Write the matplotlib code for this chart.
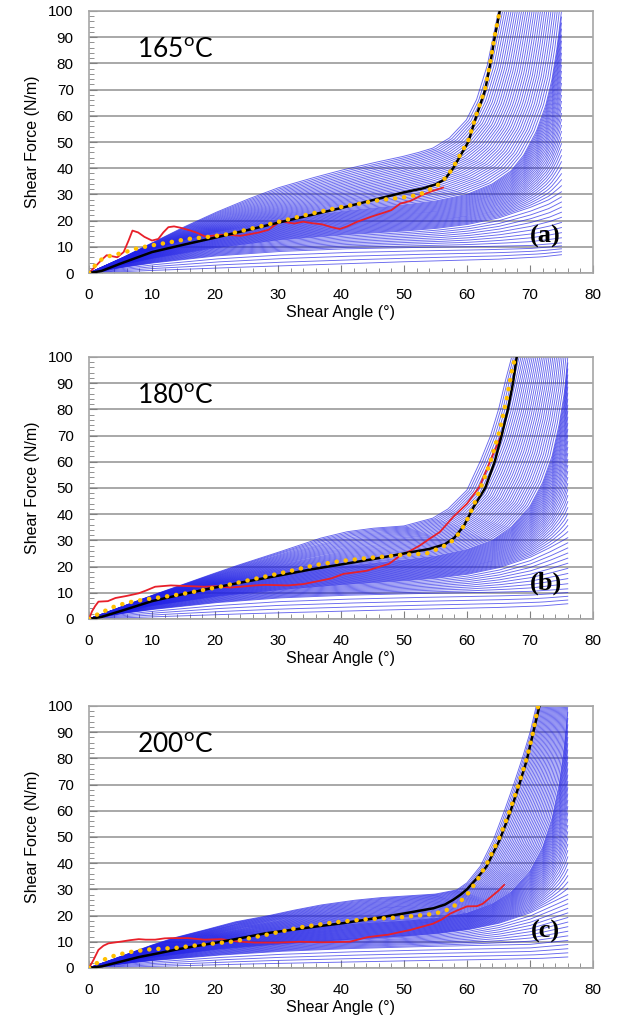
import numpy as np
import matplotlib
matplotlib.use("Agg")
import matplotlib.pyplot as plt

plt.rcParams['font.family'] = ['Liberation Sans', 'DejaVu Sans']
plt.rcParams['mathtext.fontset'] = 'custom'
plt.rcParams['mathtext.rm'] = 'Lato'

temps = ['165', '180', '200']
tags = ['(a)', '(b)', '(c)']

# ---- panel (a) 165C ----
black_a_x = [0, 2, 5, 10, 15, 20, 25, 30, 35, 40, 45, 50, 53, 55, 56.5, 57.8, 59, 60.2, 61.5, 62.9, 63.7, 64.4, 65.2]
black_a_y = [0, 0.8, 3.6, 8, 10.8, 13.5, 16.3, 19.2, 22, 24.8, 27.8, 30.8, 32.3, 33.8, 35.8, 40, 45, 50, 60, 70, 80, 90, 100]
orange_a_x = [0, 1, 2, 3.3, 5.5, 7.3, 9.4, 12.5, 15.7, 19, 22, 25, 30, 35, 40, 46, 51, 53, 55.7, 57, 57.8, 59, 60.2, 61.5, 62.9, 63.7, 64.4, 65.2]
orange_a_y = [0, 3, 5.2, 6.5, 7.8, 9.2, 10.3, 11.6, 13, 13.8, 14.8, 16.5, 19.5, 22.5, 25.2, 27.8, 29.2, 30.5, 34, 37.5, 40.3, 45.5, 50.5, 60.5, 70.5, 80.5, 90.5, 100]
red_a_x = [0, 1, 2, 2.8, 3.5, 4.5, 5.5, 6.3, 6.9, 7.8, 8.8, 10, 11, 11.8, 12.6, 13.5, 14.5, 15.7, 17, 18.4, 19.5, 21, 22.6, 24,
           25.5, 27, 28.5, 30.5, 31.5, 32.6, 34, 35.5, 37, 38.5, 39.8, 41, 42.5, 44.8, 46.5, 48, 49.4, 51, 53, 54.5, 56.2]
red_a_y = [0, 2.5, 5, 6.8, 6.5, 6, 8, 12.5, 16.2, 15.5, 13.8, 12.4, 13, 15.5, 17.5, 17.8, 17.3, 16.5, 15.5, 14, 14.2, 14.6, 14.5, 14.2,
           14.8, 15.5, 16.5, 20, 19.3, 18.9, 19.6, 19, 18.6, 17.5, 16.8, 17.8, 19.5, 21.5, 22.8, 24, 26.5, 27.5, 29.9, 31.3, 32.6]
# guide curves of the blue family (top, corner, mid, low, lowest)
fam_a = [
    ([0, 5, 10, 15, 20, 25, 30, 35, 40, 45, 49.5, 52, 54.6, 57.2, 59.9, 61.5, 63.2, 64.3, 65],
     [0, 5.5, 11.5, 17.5, 23, 28, 32.5, 36, 39.2, 42, 44.3, 45.8, 47.7, 51.5, 58.4, 66, 79, 91.8, 100]),
    ([0, 5, 10, 15, 20, 30, 40, 50, 55, 60, 64, 67, 69, 71, 72.5, 73.5, 74.3, 75],
     [0, 4.5, 9, 12.5, 15.5, 20, 23.5, 26, 27.5, 30, 34, 39, 45, 54, 64, 74, 86, 100]),
    ([0, 5, 10, 20, 30, 40, 50, 55, 60, 65, 70, 73, 75],
     [0, 3, 5.5, 9.5, 12.5, 14.5, 16, 17, 18.5, 21, 25, 28, 31]),
    ([0, 5, 10, 20, 30, 40, 50, 60, 70, 75],
     [0, 2, 3.8, 6.5, 8.2, 9.2, 9.7, 10, 10.5, 11.5]),
    ([0, 10, 25, 50, 65, 72, 75],
     [0, 1, 2.3, 4.3, 5.3, 6.2, 7]),
]

# ---- panel (b) 180C ----
black_b_x = [0, 2, 5, 10, 15, 20, 25, 30, 35, 40, 45, 50, 54, 56.5, 58, 59.5, 61, 62.9, 64.4, 65.5, 66.5, 67.3, 67.9]
black_b_y = [0, 0.8, 3, 6.8, 9.5, 12, 14.3, 16.5, 18.8, 20.8, 22.8, 25, 26.7, 28.5, 31, 35.5, 42.5, 50, 60, 70, 80, 90, 100]
orange_b_x = [0, 1, 1.75, 3, 4, 6, 9, 12, 15, 20.8, 25, 31.4, 36, 40, 44, 49.4, 53.6, 56.2, 57.8, 59, 60, 61, 62, 63.6, 65.2, 66.3, 67.3, 67.8]
orange_b_y = [0, 1.3, 2.2, 3.6, 4.7, 6.2, 7.5, 8.5, 9.6, 12.3, 14.6, 18, 20.6, 22.1, 23.2, 24.4, 25, 27.6, 30, 33.5, 37.7, 43, 49, 59, 72, 84, 97, 100]
red_b_x = [0, 0.5, 1, 1.5, 3, 4.2, 6, 7.9, 9, 10.5, 13, 15, 18.3, 20, 22.5, 24, 26.3, 28, 31.6, 34, 36.7, 38.5, 40.4, 42.3,
           44.1, 46.2, 47.6, 49.4, 51, 52.5, 54, 55.7, 57.8, 60, 62, 64.1, 65.6]
red_b_y = [0, 3, 5, 6.6, 6.8, 8, 8.8, 9.8, 10.8, 12.3, 12.8, 12.6, 12.3, 12.5, 12, 12.3, 12.8, 13, 12.8, 13.3, 14.6, 15.5, 17.2, 17.8,
           18.4, 20, 21, 24.2, 26, 28, 30.5, 33.2, 38.9, 44, 50.5, 62.6, 70.9]
fam_b = [
    ([0, 5, 10, 17.6, 23, 28.2, 32, 36.7, 41, 45, 50, 54.6, 57, 60, 62, 63.7, 65, 66, 67.1],
     [0, 4.5, 9, 15.5, 20, 24, 27, 30.8, 33.3, 34.6, 35.5, 38.5, 42, 49.2, 59.5, 69.6, 79.8, 90, 100]),
    ([0, 5, 10, 20, 30, 40, 50, 55, 60, 64, 67, 70, 72, 73.5, 74.7, 75.5, 76],
     [0, 4, 7.5, 13, 17, 20, 22.5, 24, 26.5, 30, 35, 43, 52, 62, 75, 87, 100]),
    ([0, 5, 10, 20, 30, 40, 50, 55, 60, 65, 70, 73, 76],
     [0, 2.5, 5, 8.5, 11, 13, 14.5, 15.5, 17, 19.5, 23.5, 27, 31]),
    ([0, 5, 10, 20, 30, 40, 50, 60, 70, 76],
     [0, 2, 3.6, 6.2, 8, 9, 9.6, 10, 10.5, 11.5]),
    ([0, 10, 25, 50, 65, 72, 76],
     [0, 0.8, 2, 3.6, 4.4, 5, 5.8]),
]

# ---- panel (c) 200C ----
black_c_x = [0, 2, 5, 8, 11, 14, 17.6, 21, 25, 28, 32, 36, 40, 45, 50, 54.7, 56.5, 57.8, 59, 60, 61.5, 63.1, 65.2, 66.8, 68.2, 69.5, 70.5, 71.5]
black_c_y = [0, 0.6, 2.4, 4.2, 5.6, 7.1, 8.6, 10, 11.8, 13.2, 14.5, 15.8, 17, 18.8, 20.8, 22.8, 24.2, 26, 28, 30, 34, 38.7, 48.9, 59, 69.2, 79.4, 89.7, 100]
orange_c_x = [0, 0.5, 1.7, 3, 4.4, 7, 9.7, 13.9, 17.6, 22.9, 28.2, 33.5, 38.8, 44.1, 49.4, 54.6, 56.5, 57.8, 59, 60, 61.5, 63.1, 65.2, 66.8, 68.2, 69.5, 70.5, 71.3]
orange_c_y = [0, 0.8, 2.5, 3.8, 5, 6.3, 7.1, 7.7, 8.8, 10.1, 12.7, 15.5, 17.4, 18.6, 19.3, 20.6, 21.8, 23.4, 25.5, 27.9, 33, 39.5, 50, 60, 70, 80, 90, 100]
red_c_x = [0, 0.7, 1.5, 2.3, 3.1, 4, 5.2, 6.5, 7.9, 9, 10.5, 12, 13.1, 15.7, 18.3, 21, 23.6, 26.3, 30, 33.5, 37, 41.4, 44.1, 46,
           47.5, 49.4, 51, 52.5, 54.6, 56, 57.3, 58.5, 60, 61.6, 62.5, 63.4, 65, 65.9]
red_c_y = [0, 3, 6.9, 8.5, 9.4, 9.7, 10.1, 10.6, 11, 10.8, 10.8, 11.3, 11.4, 11.4, 10.8, 11, 10.1, 9.7, 9.7, 10, 9.8, 10, 11.7, 12.3,
           12.7, 13.7, 14.5, 15.5, 16.9, 18.5, 20.7, 22, 23.5, 23.6, 24.5, 26.3, 29.5, 31.7]
fam_c = [
    ([0, 4.4, 9.7, 13.5, 17.6, 23, 28.2, 32, 36.7, 42, 46, 50.6, 55, 58.4, 60, 62.1, 64.2, 65.8, 67.3, 68.7, 70, 71],
     [0, 3.8, 8.5, 11.5, 14, 17.5, 19.8, 21.8, 24, 25.8, 26.8, 27.5, 28.2, 29.8, 32.5, 38.7, 48.9, 59, 69.2, 79.4, 89.7, 100]),
    ([0, 5, 10, 20, 30, 40, 50, 55, 60, 64, 67, 70, 72, 73.5, 74.7, 75.5, 76],
     [0, 3.5, 6.5, 11, 14, 16.5, 18, 19, 21, 24.5, 29, 37, 46, 57, 71, 86, 100]),
    ([0, 5, 10, 20, 30, 40, 50, 55, 60, 65, 70, 73, 76],
     [0, 2, 4, 7, 9, 10.5, 12, 13, 14.5, 17, 21, 24.5, 28]),
    ([0, 5, 10, 20, 30, 40, 50, 60, 70, 76],
     [0, 1.5, 2.8, 4.8, 6.3, 7.3, 8, 8.5, 9, 10.5]),
    ([0, 10, 25, 50, 65, 72, 76],
     [0, 0.6, 1.5, 2.7, 3.3, 3.7, 4.2]),
]

# how many blue curves between consecutive guide curves
fam_counts = [30, 30, 10, 4]
BLUE = '#2020e6'


def resample(xs, ys, n=400):
    # points evenly spaced along the curve (axes-normalised arc length)
    x = np.asarray(xs, float)
    y = np.asarray(ys, float)
    d = np.hypot(np.diff(x) / 80, np.diff(y) / 100)
    s = np.concatenate([[0], np.cumsum(d)])
    s /= s[-1]
    u = np.linspace(0, 1, n)
    return np.interp(u, s, x), np.interp(u, s, y)


def draw_family(ax, keys):
    for i, n in enumerate(fam_counts):
        if i == 0:
            # both guides end on the top edge: blend along the curve
            xa, ya = resample(*keys[0])
            xb, yb = resample(*keys[1])
        else:
            # both guides end on the right: blend at equal angle
            xa = np.linspace(0, keys[i][0][-1], 400)
            xb = xa
            ya = np.interp(xa, *keys[i])
            yb = np.interp(xa, *keys[i + 1])
        for w in np.linspace(0, 1, n, endpoint=False):
            ax.plot((1 - w) * xa + w * xb, (1 - w) * ya + w * yb,
                    color=BLUE, lw=0.65, alpha=0.68, zorder=2)
    ax.plot(*keys[-1], color=BLUE, lw=0.65, alpha=0.68, zorder=2)


fig = plt.figure(figsize=(6.18, 10.28), dpi=100)
bottoms = [0.7344, 0.3979, 0.0584]
panels = [
    (fam_a, black_a_x, black_a_y, orange_a_x, orange_a_y, red_a_x, red_a_y),
    (fam_b, black_b_x, black_b_y, orange_b_x, orange_b_y, red_b_x, red_b_y),
    (fam_c, black_c_x, black_c_y, orange_c_x, orange_c_y, red_c_x, red_c_y),
]

for k, (fam, bx, by, ox, oy, rx, ry) in enumerate(panels):
    ax = fig.add_axes([0.144, bottoms[k], 0.8155, 0.2549])
    draw_family(ax, fam)
    ax.plot(rx, ry, color='#e8202a', lw=1.3, zorder=4)
    ax.plot(bx, by, color='black', lw=1.8, zorder=5)
    ax.plot(ox, oy, color='#ffc000', lw=3.2, linestyle=(0, (0.05, 2.0)),
            dash_capstyle='round', zorder=6)

    ax.set_xlim(0, 80)
    ax.set_ylim(0, 100)
    ax.set_xticks(range(0, 81, 10))
    ax.set_yticks(range(0, 101, 10))
    ax.set_xticks(range(0, 81, 2), minor=True)
    ax.set_yticks(range(0, 101, 2), minor=True)
    ax.tick_params(axis='both', which='major', direction='in', length=6, width=0.8,
                   color='#808080', labelsize=11, pad=11)
    ax.tick_params(axis='both', which='minor', direction='in', length=3.5, width=0.6,
                   color='#808080')
    ax.grid(axis='y', which='major', color='#9a9a9a', lw=1.2, zorder=1)
    ax.set_axisbelow(True)
    for sp in ax.spines.values():
        sp.set_color('#a6a6a6')
        sp.set_linewidth(1.2)

    ax.set_xlabel('Shear Angle (°)', fontsize=11.5, labelpad=2)
    ax.set_ylabel('Shear Force (N/m)', fontsize=11.5, labelpad=6)

    ax.text(7.6, 85, temps[k] + r'$^{\mathrm{o}}$C', family='Lato', fontsize=19,
            ha='left', va='center', zorder=7)
    ax.text(72.5, 13.8, tags[k], family='Liberation Serif', fontweight='bold',
            fontsize=19, ha='center', va='center', zorder=7)

fig.savefig('out.png', dpi=100)
